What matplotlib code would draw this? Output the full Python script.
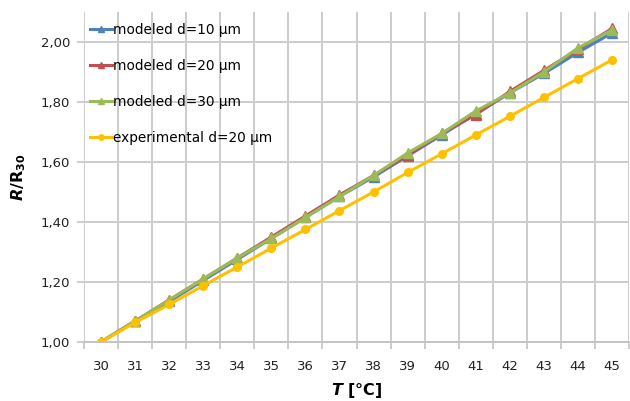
import numpy as np
import matplotlib.pyplot as plt
from matplotlib.ticker import FuncFormatter, FixedLocator

plt.rcParams['font.family'] = 'DejaVu Sans'
plt.rcParams['mathtext.fontset'] = 'custom'
plt.rcParams['mathtext.it'] = 'DejaVu Sans:italic:bold'
plt.rcParams['mathtext.rm'] = 'DejaVu Sans:bold'
plt.rcParams['mathtext.bf'] = 'DejaVu Sans:bold'

# data
temps = [30, 31, 32, 33, 34, 35, 36, 37, 38, 39, 40, 41, 42, 43, 44, 45]
mod10 = [1.00, 1.07, 1.135, 1.205, 1.275, 1.345, 1.415, 1.485, 1.55, 1.62, 1.69, 1.76, 1.83, 1.895, 1.965, 2.03]
mod20 = [1.00, 1.07, 1.14, 1.21, 1.28, 1.35, 1.42, 1.49, 1.555, 1.622, 1.695, 1.758, 1.835, 1.905, 1.975, 2.045]
mod30 = [1.00, 1.07, 1.14, 1.21, 1.28, 1.345, 1.415, 1.485, 1.555, 1.63, 1.695, 1.77, 1.83, 1.90, 1.98, 2.04]
exp20 = [1.00, 1.065, 1.125, 1.188, 1.25, 1.313, 1.375, 1.438, 1.50, 1.565, 1.627, 1.69, 1.752, 1.815, 1.878, 1.94]
labels = ['modeled d=10 µm', 'modeled d=20 µm', 'modeled d=30 µm', 'experimental d=20 µm']

fig = plt.figure(figsize=(6.3, 4.01), dpi=100)
ax = fig.add_axes([84/630, 59/401, 545/630, 330/401])

x = np.arange(len(temps))
ax.plot(x, mod10, color='#4F81BD', lw=2.2, marker='^', ms=6.5, label=labels[0])
ax.plot(x, mod20, color='#C0504D', lw=2.2, marker='^', ms=6.5, label=labels[1])
ax.plot(x, mod30, color='#9BBB59', lw=2.2, marker='^', ms=6.5, label=labels[2])
ax.plot(x, exp20, color='#FFC000', lw=2.2, marker='o', ms=5.5, label=labels[3])

ax.set_xlim(-0.5, len(temps) - 0.5)
ax.set_ylim(1.0, 2.1)
ax.set_xticks(x)
ax.set_xticklabels([str(t) for t in temps])
ax.xaxis.set_minor_locator(FixedLocator(np.arange(-0.5, len(temps), 1.0)))
ax.set_yticks(np.arange(1.0, 2.01, 0.2))
ax.yaxis.set_major_formatter(FuncFormatter(lambda v, p: f'{v:.2f}'.replace('.', ',')))

ax.grid(True, which='minor', axis='x', color='#cccccc', lw=1.4)
ax.grid(True, which='major', axis='y', color='#cccccc', lw=1.4)
ax.set_axisbelow(True)
for s in ['top', 'right', 'left']:
    ax.spines[s].set_visible(False)
ax.spines['bottom'].set_color('#c4c4c4')
ax.spines['bottom'].set_linewidth(1.4)

ax.tick_params(axis='x', which='major', length=0, pad=13, labelsize=9.5, labelcolor='#222222')
ax.tick_params(axis='x', which='minor', length=5, color='#c4c4c4', width=1.2)
ax.tick_params(axis='y', length=5, color='#c4c4c4', width=1.2, pad=5, labelsize=9.5, labelcolor='#222222')

ax.set_xlabel(r'$\it{T}$ [°C]', fontsize=11.5, fontweight='bold', labelpad=6)
ax.set_ylabel(r'$\it{R}$/R$_{30}$', fontsize=11.5, fontweight='bold', labelpad=9)

ax.legend(loc='upper left', bbox_to_anchor=(0.011, 0.967), frameon=False, fontsize=9.8,
          handlelength=1.6, handletextpad=0.1, labelspacing=1.62, borderpad=0, borderaxespad=0,
          markerscale=0.7)

fig.savefig('out.png', dpi=100)
